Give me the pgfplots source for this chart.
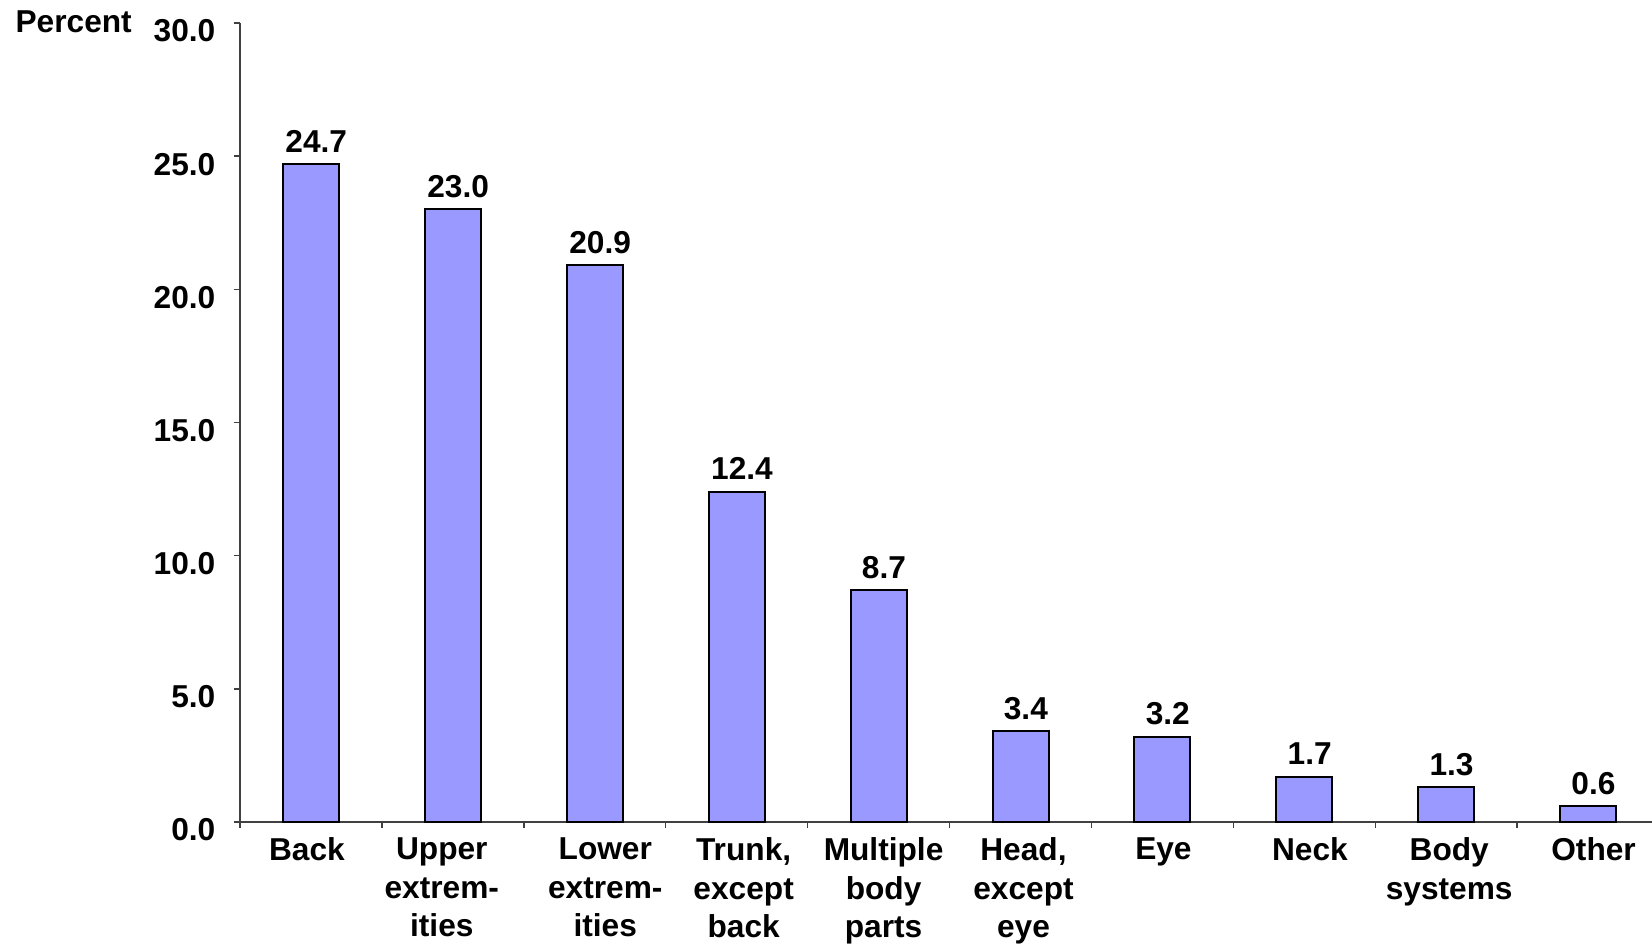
\documentclass[border=0pt]{standalone}
\usepackage{fontspec}
\setmainfont{Liberation Sans}
\usepackage{pgfplots}
\pgfplotsset{compat=1.18}
\definecolor{barblue}{RGB}{153,153,255}
\newcommand{\lblfont}{\fontsize{9.5pt}{11.55pt}\selectfont\bfseries}
\begin{document}
\begin{tikzpicture}
\begin{axis}[
  name=ax,
  scale only axis,
  width=423.6pt, height=239.7pt,
  xmin=-0.5, xmax=9.45, ymin=0, ymax=30,
  axis x line=bottom, axis y line=left,
  axis line style={black!75, line width=0.45pt, -},
  clip=false,
  /pgf/number format/assume math mode=true,
  tick align=outside,
  major tick length=1.8pt,
  tick style={black!75, line width=0.45pt},
  ytick={0,5,10,15,20,25,30},
  yticklabel style={font=\lblfont, inner sep=0pt, anchor=base east, yshift=-5.7pt, xshift=-5.4pt,
    /pgf/number format/.cd, fixed, fixed zerofill, precision=1},
  xtick={-0.5,0.5,1.5,2.5,3.5,4.5,5.5,6.5,7.5,8.5},
  xticklabels={},
  extra x ticks={-0.028,0.922,2.074,3.049,4.035,5.021,6.007,7.039,8.021,9.038},
  extra x tick labels={Back,{Upper\\extrem-\\ities},{Lower\\extrem-\\ities},{Trunk,\\except\\back},{Multiple\\body\\parts},{Head,\\except\\eye},Eye,Neck,{Body\\systems},Other},
  extra x tick style={major tick length=0pt, xticklabel style={font=\lblfont, align=center, inner sep=0pt, anchor=north, yshift=-4.6pt}},
  ybar, bar width=16.8pt,
  nodes near coords,
  every node near coord/.append style={font=\lblfont, anchor=base, yshift=3.6pt, xshift=1.6pt,
    /pgf/number format/.cd, fixed, fixed zerofill, precision=1},
]
\addplot[fill=barblue, draw=black, line width=0.6pt] coordinates {
  (0,24.7) (1,23.0) (2,20.9) (3,12.4) (4,8.7) (5,3.4) (6,3.2) (7,1.7) (8,1.3) (9,0.6)
};
\node[font=\lblfont, anchor=base west, inner sep=0pt] at (rel axis cs:-0.1594,0.9875) {Percent};
\end{axis}
\pgfresetboundingbox
\path[use as bounding box, shift={(ax.south west)}] (-72pt,-36.9pt) rectangle (423.6pt,246.6pt);
\end{tikzpicture}
\end{document}
